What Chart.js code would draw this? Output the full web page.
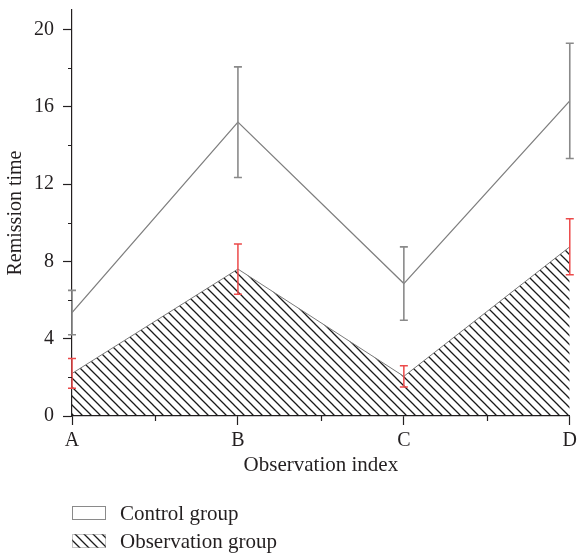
<!DOCTYPE html>
<html>
<head>
<meta charset="utf-8">
<script src="https://cdn.jsdelivr.net/npm/chart.js@4.4.1/dist/chart.umd.min.js"></script>
<style>
  html, body { margin: 0; padding: 0; background: #fff; }
  #wrap { width: 581px; height: 555px; position: relative; }
</style>
</head>
<body>
<div id="wrap"><canvas id="chart"></canvas></div>
<script>
// Chart data
const categories = ['A', 'B', 'C', 'D'];
const controlValues = [5.35, 15.2, 6.85, 16.3];
const controlErrors = [1.15, 2.86, 1.9, 2.98];
const observationValues = [2.2, 7.6, 2.05, 8.75];
const observationErrors = [0.77, 1.3, 0.55, 1.45];
const yTicks = [0, 4, 8, 12, 16, 20];
const yMinorTicks = [2, 6, 10, 14, 18];

const textColor = '#231f20';
const axisColor = '#231f20';
const serif = "'Liberation Serif', 'Times New Roman', serif";
Chart.defaults.font.family = serif;
Chart.defaults.color = textColor;

// diagonal hatch for the observation area
function makeHatch() {
    const s = 9;
    const c = document.createElement('canvas');
    c.width = s; c.height = s;
    const g = c.getContext('2d');
    g.strokeStyle = '#1a1a1a';
    g.lineWidth = 1.3;
    g.beginPath();
    g.moveTo(-1, -1); g.lineTo(s + 1, s + 1);
    g.moveTo(-1, s - 1); g.lineTo(1, s + 1);
    g.moveTo(s - 1, -1); g.lineTo(s + 1, 1);
    g.stroke();
    return g.createPattern(c, 'repeat');
}
const hatch = makeHatch();

function drawErrorBars(ctx, x, y, values, errors, color, width) {
    ctx.save();
    ctx.strokeStyle = color;
    ctx.lineWidth = width;
    values.forEach((v, i) => {
        const px = x.getPixelForValue(i);
        const top = y.getPixelForValue(v + errors[i]);
        const bot = y.getPixelForValue(v - errors[i]);
        ctx.beginPath();
        ctx.moveTo(px, top); ctx.lineTo(px, bot);
        ctx.moveTo(px - 4, top); ctx.lineTo(px + 4, top);
        ctx.moveTo(px - 4, bot); ctx.lineTo(px + 4, bot);
        ctx.stroke();
    });
    ctx.restore();
}

// error bars, minor ticks and legend
const extrasPlugin = {
    id: 'extras',
    afterDatasetsDraw(chart) {
        const { ctx, scales: { x, y } } = chart;
        drawErrorBars(ctx, x, y, controlValues, controlErrors, '#8a8a8a', 1.6);
        drawErrorBars(ctx, x, y, observationValues, observationErrors, '#ec4a4a', 1.5);

        ctx.save();
        ctx.strokeStyle = axisColor;
        ctx.lineWidth = 1.2;
        ctx.beginPath();
        yMinorTicks.forEach(v => {
            const py = Math.round(y.getPixelForValue(v)) + 0.5;
            ctx.moveTo(y.right - 4, py); ctx.lineTo(y.right, py);
        });
        for (let i = 0; i < categories.length - 1; i++) {
            const px = Math.round(x.getPixelForValue(i + 0.5)) + 0.5;
            ctx.moveTo(px, x.top); ctx.lineTo(px, x.top + 5);
        }
        ctx.stroke();
        ctx.restore();
    },
    afterDraw(chart) {
        const { ctx, chartArea } = chart;
        const left = chartArea.left;
        const rows = [506, 534];
        ctx.save();
        ctx.font = '21px ' + serif;
        ctx.textBaseline = 'middle';
        chart.data.datasets.forEach(ds => {
            const top = rows[ds.legendRow];
            if (ds.legendRow === 0) {
                ctx.fillStyle = '#fff';
                ctx.fillRect(left, top, 34, 14);
                ctx.strokeStyle = '#8a8a8a';
                ctx.lineWidth = 1;
                ctx.strokeRect(left + 0.5, top + 0.5, 33, 13);
            } else {
                ctx.fillStyle = hatch;
                ctx.fillRect(left, top, 34, 14);
                ctx.strokeStyle = '#8a8a8a';
                ctx.lineWidth = 1;
                ctx.setLineDash([1, 1]);
                ctx.strokeRect(left + 0.5, top + 0.5, 33, 13);
                ctx.setLineDash([]);
            }
            ctx.fillStyle = textColor;
            ctx.fillText(ds.label, left + 48, top + 8);
        });
        ctx.restore();
    }
};

const ctx = document.getElementById('chart');
new Chart(ctx, {
    type: 'line',
    data: {
        labels: categories,
        datasets: [{
            label: 'Observation group',
            data: observationValues,
            legendRow: 1,
            borderColor: '#7a7a7a',
            borderWidth: 1,
            backgroundColor: hatch,
            fill: 'origin',
            pointRadius: 0,
            tension: 0
        }, {
            label: 'Control group',
            data: controlValues,
            legendRow: 0,
            borderColor: '#7f7f7f',
            borderWidth: 1.3,
            fill: false,
            pointRadius: 0,
            tension: 0
        }]
    },
    options: {
        responsive: true,
        maintainAspectRatio: false,
        animation: false,
        layout: { padding: { top: 10, right: 9, left: 2, bottom: 73 } },
        plugins: {
            legend: { display: false },
            tooltip: { enabled: false }
        },
        scales: {
            x: {
                type: 'category',
                offset: false,
                grid: { display: true, drawOnChartArea: false, offset: false, tickLength: 9, tickColor: axisColor, tickWidth: 1.2 },
                border: { display: true, color: axisColor, width: 1.2 },
                ticks: { font: { size: 20 }, color: textColor, padding: 4 },
                title: { display: true, text: 'Observation index', font: { size: 21 }, color: textColor, padding: { top: 0, bottom: 4 } },
                afterFit: s => { s.height = 66; }
            },
            y: {
                min: 0,
                max: 21,
                grid: { display: true, drawOnChartArea: false, tickLength: 9, tickColor: axisColor, tickWidth: 1.2 },
                border: { display: true, color: axisColor, width: 1.2 },
                ticks: { font: { size: 20 }, color: textColor, padding: 9 },
                afterBuildTicks: s => { s.ticks = yTicks.map(v => ({ value: v })); },
                title: { display: true, text: 'Remission time', font: { size: 20 }, color: textColor, padding: { top: 2, bottom: 2 } },
                afterFit: s => { s.width = 70; s.paddingTop = 0; }
            }
        }
    },
    plugins: [extrasPlugin]
});
</script>
</body>
</html>
